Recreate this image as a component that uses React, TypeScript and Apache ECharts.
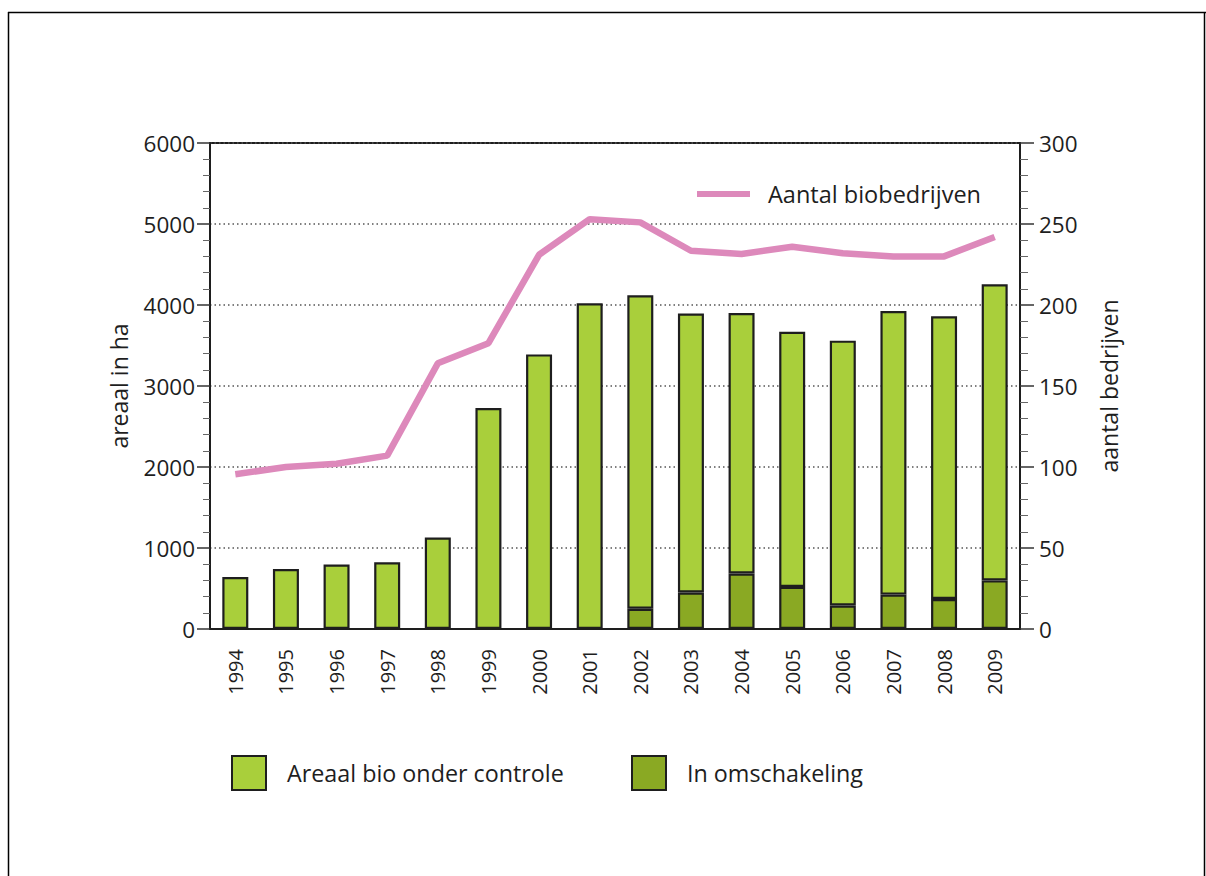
import React, { useEffect, useRef } from "react";
import * as echarts from "echarts";

const years = ["1994","1995","1996","1997","1998","1999","2000","2001","2002","2003","2004","2005","2006","2007","2008","2009"];
// hectares, top (light green) segment
const areaalControle = [642, 741, 795, 825, 1130, 2728, 3390, 4022, 3870, 3445, 3215, 3150, 3270, 3500, 3490, 3655];
// hectares, bottom (dark green) segment
const inOmschakeling = [0, 0, 0, 0, 0, 0, 0, 0, 250, 450, 685, 520, 290, 425, 370, 600];
// number of organic farms (right axis)
const aantalBiobedrijven = [95.5, 100, 102, 107, 164, 176.4, 231, 253, 251, 233.5, 231.5, 236, 232, 230, 230, 242];

const FONT = "Open Sans";
const LIGHT = "#a9cf3b";
const DARK = "#8aa923";
const PINK = "#dd89bb";
const INK = "#1e1e1e";

export default function App() {
  const ref = useRef<HTMLDivElement>(null);
  useEffect(() => {
    if (!ref.current) return;
    const chart = echarts.init(ref.current, null, { renderer: "svg" });
    const axisLabel = { color: INK, fontFamily: FONT, fontSize: 22.5, formatter: (v: number) => String(v) };
    chart.setOption({
      animation: false,
      backgroundColor: "#fff",
      textStyle: { fontFamily: FONT },
      grid: {
        left: 210, right: 186, top: 143, bottom: 247,
        show: true, borderColor: INK, borderWidth: 2, backgroundColor: "transparent",
      },
      graphic: [
        { type: "line", shape: { x1: 8, y1: 12.5, x2: 1206, y2: 12.5 }, style: { stroke: "#000", lineWidth: 1.5 } },
        { type: "line", shape: { x1: 8.5, y1: 12, x2: 8.5, y2: 876 }, style: { stroke: "#000", lineWidth: 1.5 } },
        { type: "line", shape: { x1: 1204.5, y1: 12, x2: 1204.5, y2: 876 }, style: { stroke: "#000", lineWidth: 1.5 } },
      ],
      legend: [
        {
          data: ["Aantal biobedrijven"],
          left: 692, top: 177,
          icon: "rect", itemWidth: 53, itemHeight: 6,
          textStyle: { color: INK, fontFamily: FONT, fontSize: 23.5, padding: [0, 0, 0, 13] },
        },
        {
          data: ["Areaal bio onder controle"],
          left: 226, top: 750,
          icon: "rect", itemWidth: 34, itemHeight: 34,
          itemStyle: { borderColor: INK, borderWidth: 2 },
          textStyle: { color: INK, fontFamily: FONT, fontSize: 23.3, padding: [0, 0, 0, 16] },
        },
        {
          data: ["In omschakeling"],
          left: 626, top: 750,
          icon: "rect", itemWidth: 34, itemHeight: 34,
          itemStyle: { borderColor: INK, borderWidth: 2 },
          textStyle: { color: INK, fontFamily: FONT, fontSize: 23.3, padding: [0, 0, 0, 16] },
        },
      ],
      xAxis: {
        type: "category",
        data: years,
        axisLine: { lineStyle: { color: INK, width: 2 } },
        axisTick: { show: false },
        axisLabel: { color: INK, fontFamily: FONT, fontSize: 20, rotate: 90, margin: 20 },
      },
      yAxis: [
        {
          type: "value", min: 0, max: 6000, interval: 1000,
          name: "areaal in ha", nameLocation: "middle", nameRotate: 90, nameGap: 80,
          nameTextStyle: { color: INK, fontFamily: FONT, fontSize: 23 },
          axisLine: { show: true, lineStyle: { color: INK, width: 2 } },
          axisTick: { show: true, length: 13, lineStyle: { color: "#333", width: 1.5 } },
          minorTick: { show: true, splitNumber: 5, length: 7, lineStyle: { color: "#666", width: 1 } },
          axisLabel: { ...axisLabel, margin: 15 },
          splitLine: { show: true, lineStyle: { color: "#555", width: 1.5, type: [1.5, 3] } },
        },
        {
          type: "value", min: 0, max: 300, interval: 50, position: "right",
          name: "aantal bedrijven", nameLocation: "middle", nameRotate: 90, nameGap: 77,
          nameTextStyle: { color: INK, fontFamily: FONT, fontSize: 23 },
          axisLine: { show: true, lineStyle: { color: INK, width: 2 } },
          axisTick: { show: true, length: 14, lineStyle: { color: "#333", width: 1.5 } },
          minorTick: { show: true, splitNumber: 5, length: 8, lineStyle: { color: "#666", width: 1 } },
          axisLabel: { ...axisLabel, margin: 19 },
          splitLine: { show: false },
        },
      ],
      series: [
        {
          name: "In omschakeling", type: "bar", stack: "areaal", data: inOmschakeling,
          barWidth: 26,
          itemStyle: { color: DARK, borderColor: INK, borderWidth: 2.2 },
        },
        {
          name: "Areaal bio onder controle", type: "bar", stack: "areaal", data: areaalControle,
          barWidth: 26,
          itemStyle: { color: LIGHT, borderColor: INK, borderWidth: 2.2 },
        },
        {
          name: "Aantal biobedrijven", type: "line", yAxisIndex: 1, data: aantalBiobedrijven,
          symbol: "none", z: 5,
          lineStyle: { color: PINK, width: 6.5 },
          itemStyle: { color: PINK },
        },
      ],
    });
    return () => chart.dispose();
  }, []);
  return (
    <div
      ref={ref}
      style={{ position: "absolute", left: 0, top: 0, width: 1206, height: 876 }}
    />
  );
}
